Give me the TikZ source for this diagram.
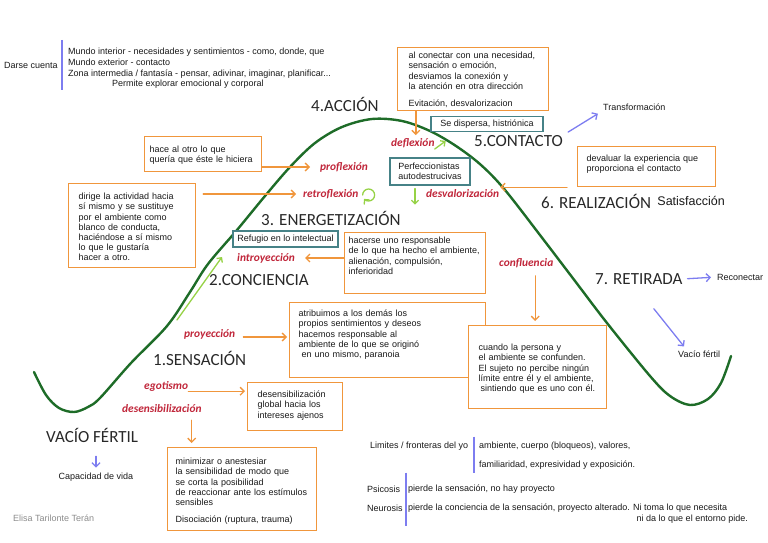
\documentclass[tikz,border=0pt]{standalone}
\usepackage{fontspec}
\setmainfont{Liberation Sans}
\newfontfamily\calib{Carlito}
\usepackage{tikz}
\usetikzlibrary{arrows.meta,positioning,calc}
\definecolor{boxorange}{RGB}{240,150,60}
\definecolor{mechred}{RGB}{192,38,58}
\definecolor{tealframe}{RGB}{70,130,135}
\definecolor{cyclegreen}{RGB}{30,108,40}
\definecolor{lightgreen}{RGB}{150,210,70}
\definecolor{arrowblue}{RGB}{125,125,240}
\definecolor{stagegrey}{RGB}{40,40,40}
\definecolor{txtgrey}{RGB}{25,25,25}
\definecolor{signgrey}{RGB}{140,140,140}
\newcommand{\boxtext}{\fontsize{9}{10.2}\selectfont}

\begin{document}
\begin{tikzpicture}[x=1pt,y=-1pt,
  every node/.style={font=\boxtext,inner sep=0pt,text=txtgrey},
  stage/.style={font=\calib\fontsize{17}{20}\selectfont,text=stagegrey,anchor=west},
  mech/.style={font=\calib\bfseries\itshape\fontsize{11.4}{14}\selectfont,text=mechred,anchor=west},
  obox/.style n args={4}{draw=boxorange,line width=1.2pt,fill=white,align=left,
               anchor=north west,inner ysep=0pt,inner xsep=#1,text width=#2,
               text height=#3,text depth=#4},
  tbox/.style={draw=tealframe,line width=1.2pt,fill=white,align=left},
  oarr/.style={-{Straight Barb[length=4pt,width=8pt]},boxorange,line width=1.3pt,line cap=round},
  barr/.style={-{Straight Barb[length=4pt,width=8pt]},arrowblue,line width=1.3pt,line cap=round},
  garr/.style={-{Straight Barb[length=3.5pt,width=7pt]},lightgreen,line width=1.3pt,line cap=round},
  sepline/.style={arrowblue,line width=1.5pt}]
\useasboundingbox (0,0) rectangle (768,543);

% curva del ciclo
\draw[cyclegreen,line width=2.4pt,line cap=round] plot[smooth,tension=0.55] coordinates {
  (34,372) (46,395) (59,408) (74,412) (88,407) (100,398) (131,363) (167,326) (190,292)
  (208,264) (237,230) (265,196) (290,167) (315,143) (342,127) (372,119) (402,121)
  (430,131) (456,146) (481,165) (505,190) (543,239) (575,281) (607,323) (650,376)
  (670,396) (690,405) (708,399) (721,383) (731,356)};

% darse cuenta
\node[anchor=west] (darse) at (4,65) {Darse cuenta};
\node[anchor=north west,align=left,font=\fontsize{9}{10.7}\selectfont] (mundo) at (68,48)
  {Mundo interior - necesidades y sentimientos - como, donde, que\\
   Mundo exterior - contacto\\
   Zona intermedia / fantasía - pensar, adivinar, imaginar, planificar...\\
   \hspace*{44pt}Permite explorar emocional y corporal};
\draw[sepline] ([shift={(-6,-8)}]mundo.north west) -- ([shift={(-6,1)}]mundo.south west);

% fases
\node[stage] (acc)   at (311,104) {4.ACCIÓN};
\node[stage] (cont)  at (474,141) {5.CONTACTO};
\node[stage] (real)  at (541,201) {6. REALIZACIÓN};
\node[font=\fontsize{12.5}{14}\selectfont,right=6pt of real] (satis) {Satisfacción};
\node[stage] (energ) at (261,218) {3. ENERGETIZACIÓN};
\node[stage] (conc)  at (209,280) {2.CONCIENCIA};
\node[stage] (sens)  at (153,358) {1.SENSACIÓN};
\node[stage] (vacio) at (46,435)  {VACÍO FÉRTIL};
\node[stage] (ret)   at (595,279) {7. RETIRADA};

% mecanismos
\node[mech] (deflex)  at (391,143) {deflexión};
\node[mech] (proflex) at (320,167) {proflexión};
\node[mech] (retro)   at (303,194) {retroflexión};
\node[mech] (desval)  at (426,194) {desvalorización};
\node[mech] (introy)  at (237,258) {introyección};
\node[mech] (proy)    at (184,334) {proyección};
\node[mech] (ego)     at (144,386) {egotismo};
\node[mech] (desens)  at (122,409) {desensibilización};
\node[mech] (confl)   at (499,263) {confluencia};

% cajas
\node[obox={11pt}{129pt}{11pt}{52pt}] (conect) at (397,47) {al conectar con una necesidad,\\
  sensación o emoción,\\ desviamos la conexión y\\ la atención en otra dirección\\[7pt]
  Evitación, desvalorizacion};
\node[obox={5pt}{107pt}{16pt}{19pt}] (hace) at (144,136) {hace al otro lo que\\
  quería que éste le hiciera};
\node[obox={10pt}{107pt}{16pt}{68pt}] (dirige) at (68,183) {dirige la actividad hacia\\
  sí mismo y se sustituye\\ por el ambiente como\\ blanco de conducta,\\
  haciéndose a sí mismo\\ lo que le gustaría\\ hacer a otro.};
\node[obox={9pt}{120pt}{15pt}{25pt}] (devaluar) at (577,146) {devaluar la experiencia que\\
  proporciona el contacto};
\node[obox={4pt}{133pt}{11pt}{50pt}] (hacerse) at (344,232) {hacerse uno responsable\\
  de lo que ha hecho el ambiente,\\ alienación, compulsión,\\ inferioridad};
\node[obox={9pt}{178pt}{14pt}{61pt}] (atrib) at (289,302) {atribuimos a los demás los\\
  propios sentimientos y deseos\\ hacemos responsable al\\ ambiente de lo que se originó\\
  \hspace*{3pt}en uno mismo, paranoia};
\node[obox={10pt}{75pt}{15pt}{33pt}] (desglob) at (247,382) {desensibilización\\
  global hacia los\\ intereses ajenos};
\node[obox={8pt}{133pt}{17pt}{66pt}] (minim) at (167,447) {minimizar o anestesiar\\
  la sensibilidad de modo que\\ se corta la posibilidad\\ de reaccionar ante los estímulos\\
  sensibles\\[7pt] Disociación (ruptura, trauma)};
\node[obox={10pt}{118pt}{25pt}{58pt}] (conflbox) at (468,325) {cuando la persona y\\
  el ambiente se confunden.\\ El sujeto no percibe ningún\\ límite entre él y el ambiente,\\
  \hspace*{2pt}sintiendo que es uno con él.};

\node[tbox,minimum width=112pt,minimum height=15pt] (disp) at (487,124) {Se dispersa, histriónica};
\node[tbox,minimum width=80pt,minimum height=27pt] (perf) at (430,171.5) {Perfeccionistas\\autodestrucivas};
\node[tbox,minimum width=105pt,minimum height=16pt] (refug) at (285.5,239) {Refugio en lo intelectual};

% textos sueltos
\node[anchor=west] (transf) at (603,107) {Transformación};
\node[anchor=west] (recon)  at (717,277) {Reconectar};
\node[anchor=west] (vf)     at (678,354) {Vacío fértil};
\node (cap) at (96,477) {Capacidad de vida};
\node[anchor=west,text=signgrey] (firma) at (13,518) {Elisa Tarilonte Terán};

\node[anchor=west] (lim)    at (370,446) {Limites / fronteras del yo};
\node[anchor=west] (amb)    at (479,446) {ambiente, cuerpo (bloqueos), valores,};
\node[anchor=west] (fam)    at (479,465) {familiaridad, expresividad y exposición.};
\node[anchor=west] (psic)   at (367,489) {Psicosis};
\node[anchor=west] (psicT)  at (408,489) {pierde la sensación, no hay proyecto};
\node[anchor=west] (neur)   at (367,508) {Neurosis};
\node[anchor=west] (neurT)  at (408,508) {pierde la conciencia de la sensación, proyecto alterado. Ni toma lo que necesita};
\node[anchor=east] (neurT2) at (748,519) {ni da lo que el entorno pide.};
\draw[sepline] ([shift={(-5,-5)}]amb.north west) -- ([shift={(-5,4)}]fam.south west);
\draw[sepline] ([shift={(-2,-12)}]psicT.north west) -- ([shift={(-2,14)}]neurT.south west);

% flechas naranjas
\draw[oarr,shorten >=3pt] ([xshift=3pt]deflex.north |- conect.south) -- ([xshift=3pt]deflex.north);
\draw[oarr,shorten >=10pt] (hace.east |- proflex.west) -- (proflex.west);
\draw[oarr,shorten <=7pt,shorten >=7pt] (dirige.east |- retro.west) -- (retro.west);
\draw[oarr,shorten >=10pt] (hacerse.west |- introy.east) -- (introy.east);
\draw[oarr,shorten <=8pt,shorten >=2pt] ([yshift=-3pt]proy.east) -- ([yshift=-3pt]proy.east -| atrib.west);
\draw[oarr,shorten >=2pt] (ego.south east) -- (ego.south east -| desglob.west);
\draw[oarr,shorten <=7pt,shorten >=4pt] ([xshift=-10pt]desens.south east) -- ([xshift=-10pt]desens.south east |- minim.north);
\draw[oarr,shorten <=10pt,shorten >=1pt] (devaluar.south west) -- (devaluar.south west -| desval.east);
\draw[oarr,shorten <=8pt,shorten >=4pt] ([xshift=9pt]confl.south) -- ([xshift=9pt]confl.south |- conflbox.north);

% flechas azules
\draw[barr,shorten <=6pt,shorten >=6pt] (cont.north east) -- (transf.south west);
\draw[barr,shorten <=5pt,shorten >=6pt] (ret.east) -- (recon.west);
\draw[barr] ($(ret.south)+(15,24)$) -- ($(vf.north west)+(6,-4)$);
\draw[barr,shorten <=14pt,shorten >=5pt] (vacio.south -| cap.north) -- (cap.north);

% flechas verdes
\draw[garr] ([yshift=-6pt]deflex.east) -- ++(11,-8);
\draw[garr] ([xshift=-15pt,yshift=-3pt]perf.south) -- ++(0,16);
\draw[garr,{Straight Barb[length=3.5pt,width=7pt]}-] ($(conc.west)+(13,-23)$) -- ($(conc.west)+(-32,40)$);
\draw[garr] ([shift={(4,1)}]retro.east) arc[start angle=180,end angle=-140,radius=6pt];
\end{tikzpicture}
\end{document}
